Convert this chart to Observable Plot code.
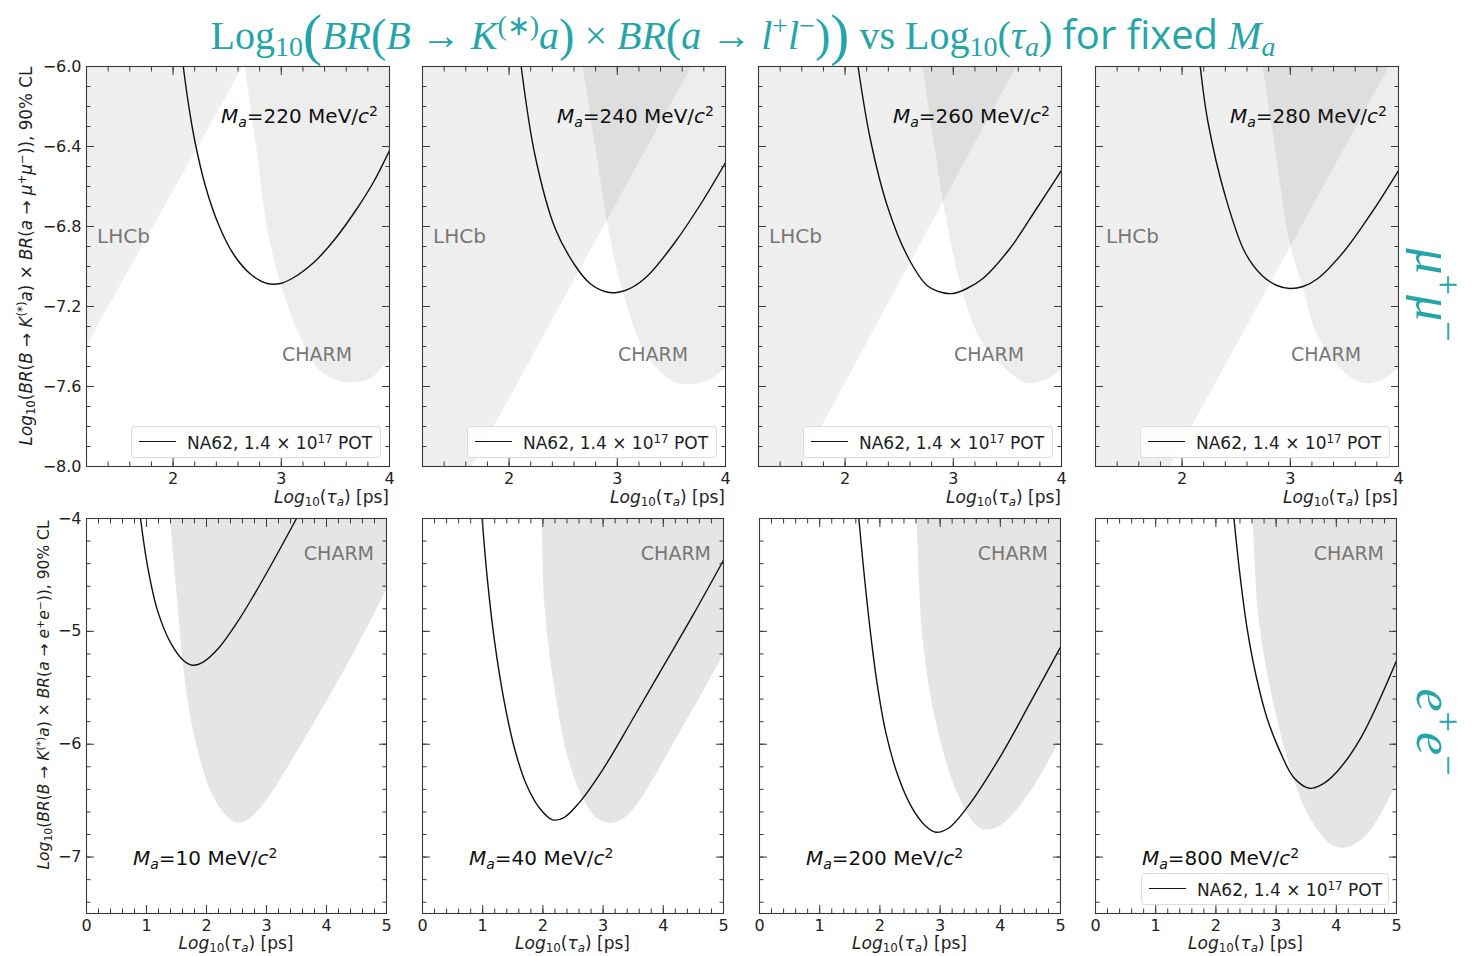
<!DOCTYPE html>
<html><head><meta charset="utf-8">
<script src="https://cdn.jsdelivr.net/npm/d3@7"></script>
<script src="https://cdn.jsdelivr.net/npm/@observablehq/plot@0.6"></script>
<style>
body{margin:0;background:#fff;}
#root{position:relative;width:1478px;height:956px;overflow:hidden;font-family:"DejaVu Sans";color:#222;}
.abs{position:absolute;white-space:nowrap;line-height:1;}
.sub{font-size:0.7em;vertical-align:-0.25em;}
.sup{font-size:0.7em;vertical-align:0.5em;}
.teal{color:#25a5a8;}
#title{font-family:"Liberation Serif";font-size:40px;}
#title .sans{font-family:"Open Sans";font-style:normal;}
#title .bp{font-size:1.43em;vertical-align:-0.08em;font-style:normal;}
#title .mp{font-size:1.15em;vertical-align:-0.04em;font-style:normal;}
.legend{position:absolute;border:1px solid #dcdcdc;border-radius:4px;background:rgba(255,255,255,0.85);box-sizing:border-box;}
.legend .ln{position:absolute;left:7px;top:14px;width:37px;border-top:1.5px solid #111;}
.legend .tx{position:absolute;left:55px;top:7px;font-size:17px;line-height:1;white-space:nowrap;color:#222;}
.gray{color:#777;}
</style></head><body><div id="root"></div>
<script>
// ---------------- data ----------------
const muMasses = ["220", "240", "260", "280"];
const eeMasses = ["10", "40", "200", "800"];

// mu+mu- row: NA62 sensitivity curves
const na62_220_x = [2.094, 2.14, 2.2, 2.3, 2.42, 2.56, 2.72, 2.87, 2.99, 3.1, 3.3, 3.5, 3.7, 3.85, 4.0];
const na62_220_y = [-6.0, -6.18, -6.37, -6.6, -6.79, -6.94, -7.04, -7.085, -7.085, -7.06, -6.98, -6.86, -6.71, -6.58, -6.42];
const na62_240_x = [2.112, 2.24, 2.426, 2.61, 2.748, 2.887, 2.997, 3.135, 3.283, 3.532, 3.78, 4.0];
const na62_240_y = [-6.0, -6.445, -6.81, -6.995, -7.085, -7.125, -7.13, -7.105, -7.045, -6.88, -6.68, -6.48];
const na62_260_x = [2.12, 2.232, 2.389, 2.573, 2.758, 2.896, 2.997, 3.126, 3.274, 3.523, 3.77, 4.0];
const na62_260_y = [-6.0, -6.36, -6.695, -6.945, -7.095, -7.13, -7.135, -7.11, -7.06, -6.91, -6.71, -6.52];
const na62_280_x = [2.168, 2.24, 2.398, 2.582, 2.739, 2.877, 2.997, 3.117, 3.255, 3.503, 3.753, 4.0];
const na62_280_y = [-6.0, -6.28, -6.645, -6.93, -7.045, -7.095, -7.11, -7.1, -7.06, -6.92, -6.73, -6.52];

// mu+mu- row: CHARM lower boundary (excluded above)
const charm_220_x = [2.665, 2.776, 2.877, 3.016, 3.172, 3.357, 3.541, 3.68, 3.836, 4.0];
const charm_220_y = [-6.0, -6.42, -6.82, -7.12, -7.345, -7.52, -7.575, -7.58, -7.56, -7.46];
const charm_240_x = [2.684, 2.80, 2.92, 3.05, 3.28, 3.53, 3.69, 3.85, 4.0];
const charm_240_y = [-6.0, -6.40, -6.81, -7.12, -7.45, -7.58, -7.59, -7.57, -7.51];
const charm_260_x = [2.72, 2.83, 2.914, 3.09, 3.27, 3.52, 3.68, 3.85, 4.0];
const charm_260_y = [-6.0, -6.4, -6.695, -7.13, -7.38, -7.53, -7.585, -7.57, -7.52];
const charm_280_x = [2.748, 2.86, 3.0, 3.117, 3.255, 3.5, 3.69, 3.85, 4.0];
const charm_280_y = [-6.0, -6.4, -6.885, -7.1, -7.345, -7.53, -7.585, -7.57, -7.51];

// mu+mu- row: LHCb boundary (excluded above-left)
const lhcb_220_x = [1.2, 2.65];
const lhcb_220_y = [-7.4, -6.0];
const lhcb_240_x = [1.2, 1.66, 3.69];
const lhcb_240_y = [-8.0, -8.0, -6.0];
const lhcb_260_x = [1.2, 1.587, 3.587];
const lhcb_260_y = [-8.0, -8.0, -6.0];
const lhcb_280_x = [1.2, 1.891, 3.919];
const lhcb_280_y = [-8.0, -8.0, -6.0];

// e+e- row: NA62 sensitivity curves
const na62_10_x = [0.9, 1.02, 1.18, 1.4, 1.62, 1.77, 1.95, 2.2, 2.5, 2.8, 3.1, 3.5];
const na62_10_y = [-4.0, -4.43, -4.81, -5.1, -5.26, -5.3, -5.27, -5.15, -4.93, -4.67, -4.39, -4.0];
const na62_40_x = [0.99, 1.08, 1.2, 1.35, 1.52, 1.72, 1.95, 2.16, 2.35, 2.6, 3.0, 3.5, 4.0, 4.5, 5.0];
const na62_40_y = [-4.0, -4.55, -5.1, -5.6, -6.02, -6.35, -6.57, -6.67, -6.65, -6.52, -6.22, -5.77, -5.31, -4.85, -4.37];
const na62_200_x = [1.65, 1.73, 1.83, 1.95, 2.1, 2.3, 2.52, 2.75, 2.93, 3.15, 3.45, 4.0, 4.5, 5.0];
const na62_200_y = [-4.0, -4.45, -4.95, -5.45, -5.9, -6.28, -6.55, -6.72, -6.78, -6.74, -6.56, -6.11, -5.63, -5.14];
const na62_800_x = [2.3, 2.4, 2.52, 2.67, 2.85, 3.07, 3.3, 3.55, 3.75, 4.0, 4.4, 5.0];
const na62_800_y = [-4.0, -4.5, -4.98, -5.4, -5.77, -6.07, -6.3, -6.39, -6.36, -6.25, -5.95, -5.26];

// e+e- row: CHARM lower boundary (excluded above)
const charm_10_x = [1.4, 1.52, 1.62, 1.79, 2.07, 2.29, 2.51, 2.73, 3.0, 3.4, 3.9, 4.45, 5.0];
const charm_10_y = [-4.0, -4.73, -5.32, -5.9, -6.41, -6.61, -6.70, -6.66, -6.5, -6.17, -5.72, -5.2, -4.64];
const charm_40_x = [1.99, 2.04, 2.21, 2.43, 2.71, 2.93, 3.13, 3.32, 3.55, 3.85, 4.2, 4.6, 5.0];
const charm_40_y = [-4.0, -4.81, -5.55, -6.14, -6.52, -6.67, -6.70, -6.67, -6.55, -6.3, -5.97, -5.6, -5.21];
const charm_200_x = [2.62, 2.72, 2.93, 3.27, 3.6, 3.77, 4.02, 4.52, 5.0];
const charm_200_y = [-4.0, -5.08, -5.79, -6.41, -6.72, -6.76, -6.72, -6.41, -5.96];
const charm_800_x = [2.62, 2.72, 2.95, 3.25, 3.58, 3.92, 4.17, 4.5, 4.83, 5.0];
const charm_800_y = [-4.0, -4.9, -5.61, -6.23, -6.67, -6.89, -6.92, -6.81, -6.54, -6.36];

// axes
const muXDomain = [1.2, 4.0];
const muYDomain = [-8.0, -6.0];
const eeXDomain = [0, 5];
const eeYDomain = [-7.5, -4.0];
const muXTicks = [2, 3, 4];
const muYTicks = [-8.0, -7.6, -7.2, -6.8, -6.4, -6.0];
const eeXTicks = [0, 1, 2, 3, 4, 5];
const eeYTicks = [-7, -6, -5, -4];
const muXTickLabels = ["2", "3", "4"];
const muYTickLabels = ["−8.0", "−7.6", "−7.2", "−6.8", "−6.4", "−6.0"];
const eeXTickLabels = ["0", "1", "2", "3", "4", "5"];
const eeYTickLabels = ["−7", "−6", "−5", "−4"];

// ---------------- layout ----------------
const root = document.getElementById("root");
const topFrames = [[86, 389], [422, 725], [758, 1061], [1095, 1398]];
const topRowY = [66, 466];
const botFrames = [[86, 386], [422, 723], [759, 1060], [1095, 1396]];
const botRowY = [518, 913];

const pts = (xs, ys) => xs.map((x, i) => ({x, y: ys[i]}));
const minor = (a, b, s) => d3.range(Math.round((b - a) / s) + 1).map(i => +(a + i * s).toFixed(4));

function panel(o) {
  const ML = 60, MR = 20, MT = 20, MB = 40;
  const fw = o.frame[1] - o.frame[0], fh = o.fy[1] - o.fy[0];
  const yTop = o.yDomain[1];
  const marks = [];
  if (o.lhcb) marks.push(Plot.areaY(o.lhcb, {x: "x", y1: "y", y2: () => yTop, fill: "#000", fillOpacity: 0.062, clip: true}));
  marks.push(Plot.areaY(o.charm, {x: "x", y1: "y", y2: () => yTop, fill: "#000", fillOpacity: o.charmOpacity, curve: "catmull-rom", clip: true}));
  marks.push(Plot.line(o.na62, {x: "x", y: "y", stroke: "#111", strokeWidth: 1.4, curve: "catmull-rom", clip: true}));
  marks.push(Plot.frame({stroke: "#3a3a3a", strokeWidth: 1.1}));
  const blank = () => "";
  for (const a of ["bottom", "top"]) {
    marks.push(Plot.axisX(o.xTicks, {anchor: a, tickSize: -8, tickFormat: blank, stroke: "#3a3a3a"}));
    marks.push(Plot.axisX(o.xMinor, {anchor: a, tickSize: -4.5, tickFormat: blank, stroke: "#3a3a3a"}));
  }
  for (const a of ["left", "right"]) {
    marks.push(Plot.axisY(o.yTicks, {anchor: a, tickSize: -8, tickFormat: blank, stroke: "#3a3a3a"}));
    marks.push(Plot.axisY(o.yMinor, {anchor: a, tickSize: -4.5, tickFormat: blank, stroke: "#3a3a3a"}));
  }
  marks.push(Plot.axisX(o.xTicks, {anchor: "bottom", tickSize: 0, tickPadding: 6, tickFormat: d => o.xLabels[o.xTicks.indexOf(d)]}));
  if (o.showY) marks.push(Plot.axisY(o.yTicks, {anchor: "left", tickSize: 0, tickPadding: 5, tickFormat: d => o.yLabels[o.yTicks.indexOf(d)]}));
  const svg = Plot.plot({
    width: fw + ML + MR, height: fh + MT + MB,
    marginLeft: ML, marginRight: MR, marginTop: MT, marginBottom: MB,
    x: {domain: o.xDomain, label: null},
    y: {domain: o.yDomain, label: null},
    style: {background: "transparent", overflow: "visible", fontFamily: "DejaVu Sans", fontSize: "16px", color: "#222"},
    marks
  });
  svg.style.position = "absolute";
  svg.style.left = (o.frame[0] - ML) + "px";
  svg.style.top = (o.fy[0] - MT) + "px";
  root.appendChild(svg);
}

function html(h, css, cls = "abs") {
  const d = document.createElement("div");
  d.className = cls;
  d.innerHTML = h;
  Object.assign(d.style, css);
  root.appendChild(d);
  return d;
}
const maLabel = m => `<i>M</i><span class="sub"><i>a</i></span>=${m} MeV/<i>c</i><span class="sup">2</span>`;
const legendHTML = `<span class="ln"></span><span class="tx">NA62, 1.4 × 10<span class="sup">17</span> POT</span>`;
const xLabelHTML = `<i>Log</i><span class="sub">10</span>(<i>τ</i><span class="sub"><i>a</i></span>) [ps]`;

const muNa62 = [pts(na62_220_x, na62_220_y), pts(na62_240_x, na62_240_y), pts(na62_260_x, na62_260_y), pts(na62_280_x, na62_280_y)];
const muCharm = [pts(charm_220_x, charm_220_y), pts(charm_240_x, charm_240_y), pts(charm_260_x, charm_260_y), pts(charm_280_x, charm_280_y)];
const muLhcb = [pts(lhcb_220_x, lhcb_220_y), pts(lhcb_240_x, lhcb_240_y), pts(lhcb_260_x, lhcb_260_y), pts(lhcb_280_x, lhcb_280_y)];
const eeNa62 = [pts(na62_10_x, na62_10_y), pts(na62_40_x, na62_40_y), pts(na62_200_x, na62_200_y), pts(na62_800_x, na62_800_y)];
const eeCharm = [pts(charm_10_x, charm_10_y), pts(charm_40_x, charm_40_y), pts(charm_200_x, charm_200_y), pts(charm_800_x, charm_800_y)];

// top row (mu+mu-)
muMasses.forEach((m, i) => {
  const f = topFrames[i];
  panel({
    frame: f, fy: topRowY, xDomain: muXDomain, yDomain: muYDomain,
    xTicks: muXTicks, xMinor: minor(1.2, 4.0, 0.2), yTicks: muYTicks, yMinor: minor(-8, -6, 0.1),
    xLabels: muXTickLabels, yLabels: muYTickLabels, showY: i === 0,
    na62: muNa62[i], charm: muCharm[i], lhcb: muLhcb[i], charmOpacity: 0.07
  });
  html(maLabel(m), {right: (1478 - f[1] + 11) + "px", top: "104px", fontSize: "20px", color: "#111"});
  html("LHCb", {left: (f[0] + 11) + "px", top: "226px", fontSize: "20px"}, "abs gray");
  html("CHARM", {left: (f[0] + 196) + "px", top: "345px", fontSize: "19px"}, "abs gray");
  html(legendHTML, {left: (f[0] + 45) + "px", top: "426px", width: (f[1] - f[0] - 53) + "px", height: "32px"}, "legend");
  html(xLabelHTML, {right: (1478 - f[1]) + "px", top: "489px", fontSize: "17px"});
});

// bottom row (e+e-)
eeMasses.forEach((m, i) => {
  const f = botFrames[i];
  panel({
    frame: f, fy: botRowY, xDomain: eeXDomain, yDomain: eeYDomain,
    xTicks: eeXTicks, xMinor: minor(0, 5, 0.2), yTicks: eeYTicks, yMinor: minor(-7.4, -4, 0.2),
    xLabels: eeXTickLabels, yLabels: eeYTickLabels, showY: i === 0,
    na62: eeNa62[i], charm: eeCharm[i], charmOpacity: 0.1
  });
  html(maLabel(m), {left: (f[0] + 47) + "px", top: "846px", fontSize: "20px", color: "#111"});
  html("CHARM", {right: (1478 - f[1] + 12) + "px", top: "544px", fontSize: "19px"}, "abs gray");
  const cx = (f[0] + f[1]) / 2;
  html(xLabelHTML, {left: cx + "px", top: "935px", fontSize: "17px", transform: "translateX(-50%)"});
  if (i === 3) html(legendHTML, {left: (f[0] + 46) + "px", top: "873px", width: (f[1] - f[0] - 53) + "px", height: "32px"}, "legend");
});

// y-axis titles
const yTitle = lep => `<i>Log</i><span class="sub">10</span>(<i>BR</i>(<i>B</i> → <i>K</i><span class="sup">(*)</span><i>a</i>) × <i>BR</i>(<i>a</i> → ${lep})), 90% CL`;
html(yTitle(`<i>μ</i><span class="sup">+</span><i>μ</i><span class="sup">−</span>`), {left: "27px", top: "256px", fontSize: "16.8px", transform: "translate(-50%,-50%) rotate(-90deg)"});
html(yTitle(`<i>e</i><span class="sup">+</span><i>e</i><span class="sup">−</span>`), {left: "45px", top: "695px", fontSize: "15.5px", transform: "translate(-50%,-50%) rotate(-90deg)"});

// row labels on the right
html(`<i>μ</i><span class="sup">+</span><i>μ</i><span class="sup">−</span>`, {left: "1437px", top: "295px", fontSize: "52px", fontFamily: "Liberation Serif", transform: "translate(-50%,-50%) rotate(90deg)"}, "abs teal");
html(`<i>e</i><span class="sup">+</span><i>e</i><span class="sup">−</span>`, {left: "1437px", top: "732px", fontSize: "52px", fontFamily: "Liberation Serif", transform: "translate(-50%,-50%) rotate(90deg)"}, "abs teal");

// title
html(`Log<span class="sub">10</span><span class="bp">(</span><i>BR</i><span class="mp">(</span><i>B</i> → <i>K</i><span class="sup">(∗)</span><i>a</i><span class="mp">)</span> × <i>BR</i><span class="mp">(</span><i>a</i> → <i>l</i><span class="sup">+</span><i>l</i><span class="sup">−</span><span class="mp">)</span><span class="bp">)</span> vs Log<span class="sub">10</span>(<i>τ<span class="sub">a</span></i>) <span class="sans">for fixed</span> <i>M<span class="sub">a</span></i>`,
  {left: "743px", top: "6px", transform: "translateX(-50%)"}, "abs teal").id = "title";
</script></body></html>
